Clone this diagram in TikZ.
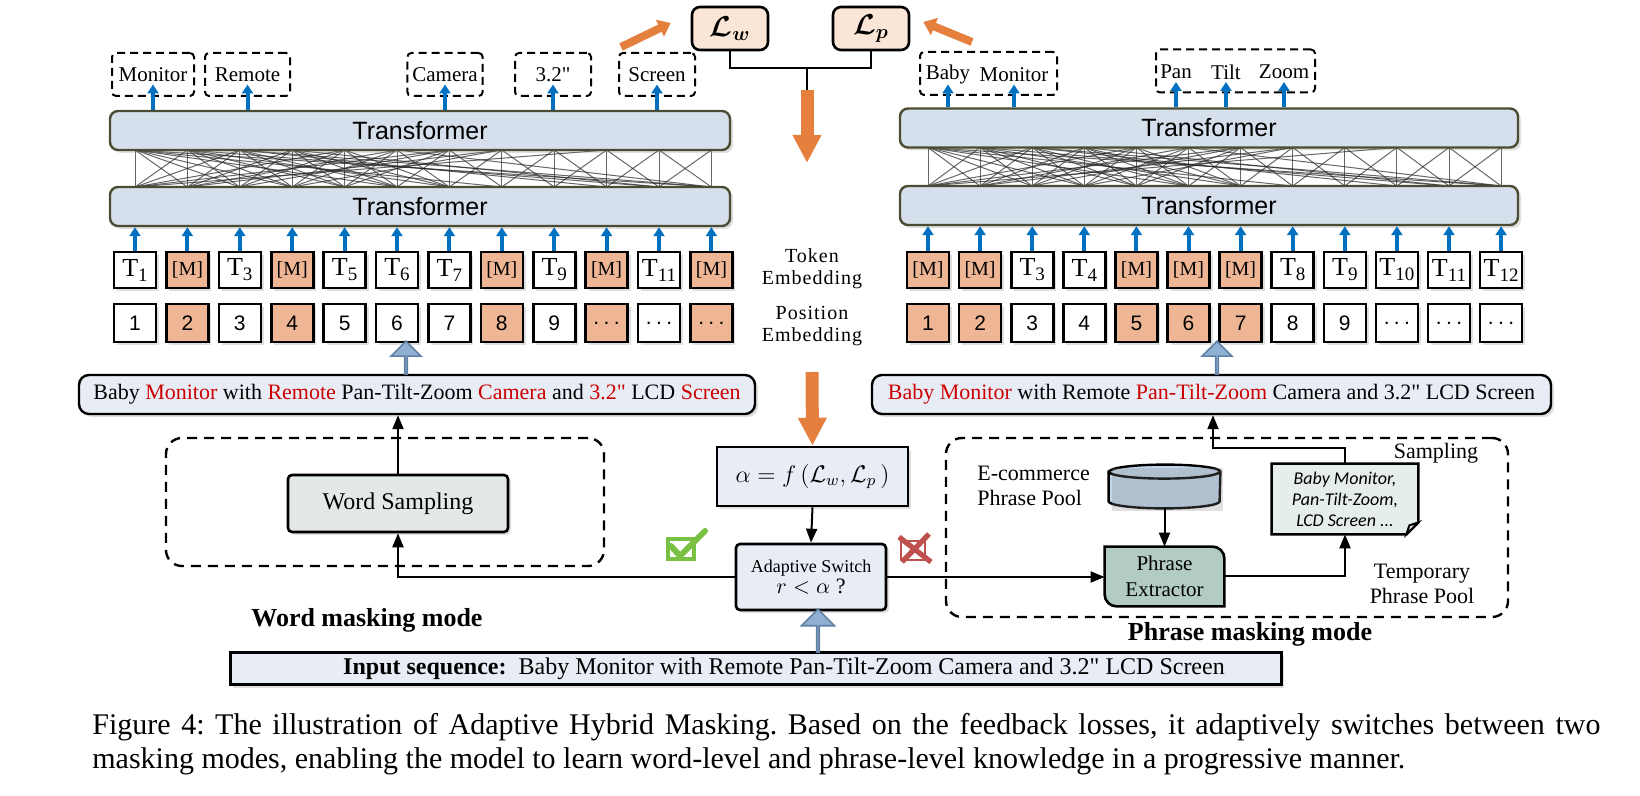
\documentclass[tikz,border=0pt]{standalone}
\usepackage{fontspec}
\usepackage{bm}
\setmainfont{Liberation Serif}
\setsansfont{Liberation Sans}
\newfontfamily\calfont{Carlito}
\newfontfamily\widefont[LetterSpace=5]{Liberation Serif}
\usetikzlibrary{arrows.meta,shapes.arrows,shadows,backgrounds}
\frenchspacing

\definecolor{tfill}{RGB}{214,224,236}
\definecolor{tborder}{RGB}{76,76,52}
\definecolor{maskfill}{RGB}{238,182,148}
\definecolor{lossfill}{RGB}{251,229,214}
\definecolor{lossorange}{RGB}{228,127,62}
\definecolor{arrowblue}{RGB}{0,112,192}
\definecolor{hollowfill}{RGB}{143,176,210}
\definecolor{hollowdraw}{RGB}{96,128,165}
\definecolor{sentfill}{RGB}{232,237,245}
\definecolor{wordfill}{RGB}{227,234,230}
\definecolor{pefill}{RGB}{178,204,194}
\definecolor{dbfill}{RGB}{194,214,234}
\definecolor{docfill}{RGB}{230,238,236}
\definecolor{hlred}{RGB}{204,0,0}
\definecolor{okgreen}{RGB}{122,193,67}
\definecolor{nored}{RGB}{192,80,77}

\newcommand{\tokT}[1]{T\raisebox{-2.5pt}{\fontsize{9.5}{10}\selectfont #1}}
\newcommand{\redw}[1]{\textcolor{hlred}{#1}}
\newcommand{\spdots}{.\kern2.2pt.\kern2.2pt.}
\newcommand{\inch}{\textquotedbl}

\tikzset{
  softshadow/.style={drop shadow={opacity=0.25,shadow xshift=1.5pt,shadow yshift=-1.5pt}},
  trans/.style={draw=tborder, line width=1.2pt, fill=tfill, rounded corners=4pt,
    minimum width=310pt, minimum height=19.5pt, inner sep=0pt,
    font=\sffamily\fontsize{12.5}{14}\selectfont, softshadow},
  outbox/.style={draw, line width=1pt, dash pattern=on 4pt off 2.5pt, rounded corners=2pt,
    minimum height=21.5pt, inner xsep=2.5pt, font=\fontsize{10.5}{12}\selectfont},
  outword/.style={inner sep=0pt, font=\fontsize{10.5}{12}\selectfont},
  tokbox/.style={draw, line width=1.3pt, fill=white, minimum width=21pt, minimum height=18pt,
    inner sep=0pt, font=\fontsize{13}{14}\selectfont, softshadow},
  posbox/.style={tokbox, minimum height=19pt, font=\sffamily\fontsize{10.5}{12}\selectfont},
  masked/.style={fill=maskfill},
  mtok/.style={font=\fontsize{10}{12}\selectfont},
  bluearrow/.style={arrowblue, line width=2pt, -{Triangle[width=5.5pt,length=4.5pt]}},
  thinarrow/.style={line width=1pt, -{Triangle[width=5.5pt,length=7pt]}},
  lossbox/.style={draw, line width=1.3pt, fill=lossfill, rounded corners=4pt,
    minimum width=38pt, minimum height=21.5pt, font=\fontsize{14}{16}\selectfont},
  bigorange/.style={lossorange, line width=6.5pt, -{Triangle[width=13.5pt,length=14pt]}},
  slimorange/.style={lossorange, line width=4pt, -{Triangle[width=9pt,length=6pt]}},
  meshline/.style={black!85, line width=0.5pt, opacity=0.7},
  sentbox/.style={draw, line width=1.2pt, fill=sentfill, rounded corners=5pt,
    minimum height=19.5pt, font=\fontsize{11}{13}\selectfont, softshadow},
  hollowup/.style={single arrow, rotate=90, anchor=tail, draw=hollowdraw, fill=hollowfill,
    line width=0.8pt, inner sep=0pt},
  modebox/.style={draw, line width=1.2pt, dash pattern=on 5pt off 3.5pt, rounded corners=8pt},
  wordbox/.style={draw, line width=1.3pt, fill=wordfill, rounded corners=2pt, minimum width=110pt,
    minimum height=28.5pt, font=\fontsize{12}{14}\selectfont, softshadow},
  mathbox/.style={draw, line width=1.3pt, fill=sentfill, inner sep=2pt, softshadow},
  emblabel/.style={align=center, inner sep=0pt, font=\widefont\fontsize{10}{11}\selectfont},
  lbl/.style={inner sep=0pt, font=\fontsize{11}{12.5}\selectfont},
  modelabel/.style={inner sep=0pt, font=\bfseries\fontsize{13}{15}\selectfont},
  docnode/.style={inner sep=0pt, minimum width=73pt, minimum height=35pt, align=center,
    font=\calfont\itshape\fontsize{9}{10.5}\selectfont},
  caption/.style={anchor=west, inner sep=0pt, font=\fontsize{15}{17}\selectfont}
}

\begin{document}
\begin{tikzpicture}[x=0.5pt,y=-0.5pt]
  \useasboundingbox (0,0) rectangle (1640,796);

  \foreach \i in {0,...,11} {
    \coordinate (lmt\i) at (135+52.4*\i,150);
    \coordinate (lmb\i) at (135+52.4*\i,187);
    \coordinate (rmt\i) at (928+52.1*\i,147.5);
    \coordinate (rmb\i) at (928+52.1*\i,186);
  }
  \foreach \s in {l,r} {
    \foreach \i in {0,...,11}
      \draw[meshline] (\s mt\i) -- (\s mb\i);
    \foreach \i [evaluate=\i as \j using int(\i+1)] in {0,...,10} {
      \draw[meshline] (\s mt\i) -- (\s mb\j);
      \draw[meshline] (\s mb\i) -- (\s mt\j);
    }
    \foreach \i/\j in {0/2,0/3,0/5,0/7,0/11,1/3,1/4,1/6,1/10,2/4,2/5,2/9,2/11,3/5,3/6,4/6,5/11,3/10}
      \draw[meshline] (\s mt\i) -- (\s mb\j);
    \foreach \i/\j in {0/2,0/4,0/6,0/9,1/3,1/5,1/7,2/4,2/6,3/5,4/6,3/7}
      \draw[meshline] (\s mb\i) -- (\s mt\j);
  }

  \node[trans] (ltt) at (420,130.5) {Transformer};
  \node[trans] (lbt) at (420,206.5) {Transformer};
  \node[trans, minimum width=309pt] (rtt) at (1209,128) {Transformer};
  \node[trans, minimum width=309pt] (rbt) at (1209,205.5) {Transformer};

  \node[outbox, minimum width=41pt] (lout1) at (153,74.5) {Monitor};
  \node[outbox, minimum width=42.5pt] (lout2) at (247.5,74.5) {Remote};
  \node[outbox, minimum width=37pt] (lout3) at (445,74.5) {Camera};
  \node[outbox, minimum width=38pt] (lout4) at (553,74.5) {3.2\inch};
  \node[outbox, minimum width=38pt] (lout5) at (657,74.5) {Screen};
  \node[outbox, minimum width=68.5pt] (rout1) at (988.5,73.5) {};
  \node[outword] (rw1) at (948,74.5) {Baby};
  \node[outword] (rw2) at (1014,74.5) {Monitor};
  \node[outbox, minimum width=79.5pt] (rout2) at (1235.5,71) {};
  \node[outword] (rw3) at (1176,72) {Pan};
  \node[outword] (rw4) at (1226,72) {Tilt};
  \node[outword] (rw5) at (1284,72) {Zoom};
  \foreach \n in {lout1,lout2,lout3,lout4,lout5}
    \draw[bluearrow] (\n.center |- ltt.north) -- ([yshift=-5pt]\n.center);
  \foreach \n in {rw1,rw2,rw3,rw4,rw5}
    \draw[bluearrow] (\n.center |- rtt.north) -- ([yshift=-5pt]\n.center);

  \node[lossbox] (lw) at (730,28.5) {$\bm{\mathcal{L}_w}$};
  \node[lossbox] (lp) at (871,28.5) {$\bm{\mathcal{L}_p}$};
  \coordinate (join) at (807,68);
  \coordinate (lossin) at (807,90);
  \coordinate (lossout) at (807,163);
  \draw[line width=1pt] (lw.south) |- (join) -| (lp.south);
  \draw[line width=1pt] (join) -- (lossin);
  \draw[bigorange] (lossin) -- (lossout);
  \draw[slimorange] ([xshift=1.5pt,yshift=2.5pt]lout5.north west) -- ([xshift=-10pt,yshift=2.75pt]lw.west);
  \draw[slimorange] ([xshift=26.5pt,yshift=4.5pt]rout1.north west) -- ([xshift=6.5pt,yshift=3.25pt]lp.east);

  \node[tokbox] (ltok1) at (135,270) {\tokT{1}};
  \node[tokbox,masked,mtok] (ltok2) at (187.4,270) {[M]};
  \node[tokbox] (ltok3) at (239.8,270) {\tokT{3}};
  \node[tokbox,masked,mtok] (ltok4) at (292.2,270) {[M]};
  \node[tokbox] (ltok5) at (344.6,270) {\tokT{5}};
  \node[tokbox] (ltok6) at (397,270) {\tokT{6}};
  \node[tokbox] (ltok7) at (449.4,270) {\tokT{7}};
  \node[tokbox,masked,mtok] (ltok8) at (501.8,270) {[M]};
  \node[tokbox] (ltok9) at (554.2,270) {\tokT{9}};
  \node[tokbox,masked,mtok] (ltok10) at (606.6,270) {[M]};
  \node[tokbox] (ltok11) at (659,270) {\tokT{11}};
  \node[tokbox,masked,mtok] (ltok12) at (711.4,270) {[M]};
  \node[posbox] (lpos1) at (135,323) {1};
  \node[posbox,masked] (lpos2) at (187.4,323) {2};
  \node[posbox] (lpos3) at (239.8,323) {3};
  \node[posbox,masked] (lpos4) at (292.2,323) {4};
  \node[posbox] (lpos5) at (344.6,323) {5};
  \node[posbox] (lpos6) at (397,323) {6};
  \node[posbox] (lpos7) at (449.4,323) {7};
  \node[posbox,masked] (lpos8) at (501.8,323) {8};
  \node[posbox] (lpos9) at (554.2,323) {9};
  \node[posbox,masked] (lpos10) at (606.6,323) {\spdots};
  \node[posbox] (lpos11) at (659,323) {\spdots};
  \node[posbox,masked] (lpos12) at (711.4,323) {\spdots};

  \node[tokbox,masked,mtok] (rtok1) at (928,270) {[M]};
  \node[tokbox,masked,mtok] (rtok2) at (980.1,270) {[M]};
  \node[tokbox] (rtok3) at (1032.2,270) {\tokT{3}};
  \node[tokbox] (rtok4) at (1084.3,270) {\tokT{4}};
  \node[tokbox,masked,mtok] (rtok5) at (1136.4,270) {[M]};
  \node[tokbox,masked,mtok] (rtok6) at (1188.5,270) {[M]};
  \node[tokbox,masked,mtok] (rtok7) at (1240.6,270) {[M]};
  \node[tokbox] (rtok8) at (1292.7,270) {\tokT{8}};
  \node[tokbox] (rtok9) at (1344.8,270) {\tokT{9}};
  \node[tokbox] (rtok10) at (1396.9,270) {\tokT{10}};
  \node[tokbox] (rtok11) at (1449,270) {\tokT{11}};
  \node[tokbox] (rtok12) at (1501.1,270) {\tokT{12}};
  \node[posbox,masked] (rpos1) at (928,323) {1};
  \node[posbox,masked] (rpos2) at (980.1,323) {2};
  \node[posbox] (rpos3) at (1032.2,323) {3};
  \node[posbox] (rpos4) at (1084.3,323) {4};
  \node[posbox,masked] (rpos5) at (1136.4,323) {5};
  \node[posbox,masked] (rpos6) at (1188.5,323) {6};
  \node[posbox,masked] (rpos7) at (1240.6,323) {7};
  \node[posbox] (rpos8) at (1292.7,323) {8};
  \node[posbox] (rpos9) at (1344.8,323) {9};
  \node[posbox] (rpos10) at (1396.9,323) {\spdots};
  \node[posbox] (rpos11) at (1449,323) {\spdots};
  \node[posbox] (rpos12) at (1501.1,323) {\spdots};
  \foreach \i in {1,...,12} {
    \draw[bluearrow] (ltok\i.north) -- (ltok\i.north |- lbt.south);
    \draw[bluearrow] (rtok\i.north) -- (rtok\i.north |- rbt.south);
  }

  \node[emblabel] (tokemb) at (812,269) {Token\\Embedding};
  \node[emblabel] (posemb) at (812,326) {Position\\Embedding};

  \node[sentbox, minimum width=338pt] (lsent) at (417,394.5) {Baby \redw{Monitor} with \redw{Remote} Pan-Tilt-Zoom \redw{Camera} and \redw{3.2\inch} LCD \redw{Screen}};
  \node[sentbox, minimum width=339.5pt] (rsent) at (1211.5,394.5) {\redw{Baby Monitor} with Remote \redw{Pan-Tilt-Zoom} Camera and 3.2\inch{} LCD Screen};
  \node[hollowup, minimum height=16.5pt, minimum width=15pt, single arrow head extend=4.25pt] (lup) at (406,375) {};
  \node[hollowup, minimum height=16.5pt, minimum width=15pt, single arrow head extend=4.25pt] (rup) at (1217,375) {};

  \node[modebox, minimum width=219pt, minimum height=64pt] (wmode) at (385,502) {};
  \node[wordbox] (ws) at (398,503.5) {Word Sampling};
  \draw[thinarrow] (ws.north) -- (ws.north |- lsent.south);
  \node[modelabel] (wlabel) at (367,620) {Word masking mode};

  \coordinate (fbtop) at (812,372);
  \node[mathbox, minimum width=95.5pt, minimum height=29.5pt, font=\fontsize{12}{14}\selectfont] (alpha) at (812.5,476.5) {$\alpha = f\,(\mathcal{L}_w, \mathcal{L}_p\,)$};
  \draw[bigorange] (fbtop) -- (alpha.north);
  \node[mathbox, rounded corners=2pt, minimum width=75pt, minimum height=33pt, align=center, font=\fontsize{9}{10.5}\selectfont] (switch) at (811,577) {Adaptive Switch\\{\fontsize{11}{10.5}\selectfont $r<\alpha$ ?}};
  \draw[thinarrow] (alpha.south) -- (switch.north);
  \draw[thinarrow] (switch.west) -| (ws.south);
  \draw[okgreen, line width=1.6pt] (668,539) rectangle (694,559);
  \draw[okgreen, line width=3pt, line cap=round, line join=round] (671,546) -- (680,556) -- (705,531);
  \draw[nored, line width=1.4pt] (901,541) rectangle (925,560);
  \draw[nored, line width=2.6pt] (899,537) -- (931,562) (929,534) -- (902,562);

  \node[modebox, minimum width=281pt, minimum height=89.5pt] (pmode) at (1227,527.5) {};
  \node[lbl, align=left, anchor=west] (ecom) at (977,486) {E-commerce\\Phrase Pool};
  \node[inner sep=0pt, minimum width=55.5pt, minimum height=21.5pt, softshadow] (pool) at (1164.5,486.5) {};
  \node[inner sep=0pt, minimum width=59.5pt, minimum height=29.5pt, align=center, font=\fontsize{10.5}{13}\selectfont] (pe) at (1164.5,576.5) {Phrase\\Extractor};
  \node[docnode] (doc) at (1345,499) {Baby Monitor,\\Pan-Tilt-Zoom,\\LCD Screen ...};
  \begin{pgfonlayer}{background}
    \draw[line width=1.2pt, fill=dbfill] ([yshift=-3.5pt]pool.north west) -- ([yshift=3.5pt]pool.south west) arc[start angle=180, end angle=360, x radius=27.75pt, y radius=3.5pt] -- ([yshift=-3.5pt]pool.north east) arc[start angle=0, end angle=180, x radius=27.75pt, y radius=3.5pt] -- cycle;
    \draw[line width=1.2pt] ([yshift=-3.5pt]pool.north west) arc[start angle=180, end angle=360, x radius=27.75pt, y radius=3.5pt];
    \draw[line width=1.3pt, fill=pefill] (pe.north west) -- ([xshift=-6pt]pe.north east) arc[start angle=90, end angle=0, radius=6pt] -- (pe.south east) -- ([xshift=6pt]pe.south west) arc[start angle=270, end angle=180, radius=6pt] -- cycle;
    \draw[line width=1.2pt, fill=docfill] (doc.north west) -- (doc.north east) -- ([yshift=6pt]doc.south east) -- ([xshift=-6pt]doc.south east) -- (doc.south west) -- cycle;
    \draw[line width=1pt, fill=white] ([yshift=6pt]doc.south east) -- ([xshift=-6pt]doc.south east) -- ([xshift=-4.5pt,yshift=4.5pt]doc.south east) -- cycle;
  \end{pgfonlayer}
  \draw[thinarrow] (pool.south) -- (pe.north);
  \draw[thinarrow] (switch.east) -- (switch.east -| pe.west);
  \draw[thinarrow] (pe.east) -| (doc.south);
  \coordinate (samp) at (1213,448);
  \draw[thinarrow] (doc.north) |- (samp) -- (samp |- rsent.south);
  \node[lbl] (sampling) at (1436,453) {Sampling};
  \node[lbl, align=center] (tpool) at (1422,584) {Temporary\\Phrase Pool};
  \node[modelabel] (plabel) at (1250,634) {Phrase masking mode};

  \node[draw, line width=1.5pt, fill=sentfill, minimum width=525.5pt, minimum height=16pt, softshadow] (input) at (755.5,669) {};
  \node[inner sep=0pt, font=\fontsize{12}{14}\selectfont] (inputtxt) at (784,669) {\textbf{Input sequence:}\ \ Baby Monitor with Remote Pan-Tilt-Zoom Camera and 3.2\inch{} LCD Screen};
  \node[hollowup, minimum height=21.5pt, minimum width=16.5pt, single arrow head extend=4.75pt] (inup) at (818,653) {};

  \node[caption] (cap1) at (92,727) {\makebox[754pt][s]{Figure 4: The illustration of Adaptive Hybrid Masking. Based on the feedback losses, it adaptively switches between two}};
  \node[caption] (cap2) at (92,761) {masking modes, enabling the model to learn word-level and phrase-level knowledge in a progressive manner.};
\end{tikzpicture}
\end{document}
